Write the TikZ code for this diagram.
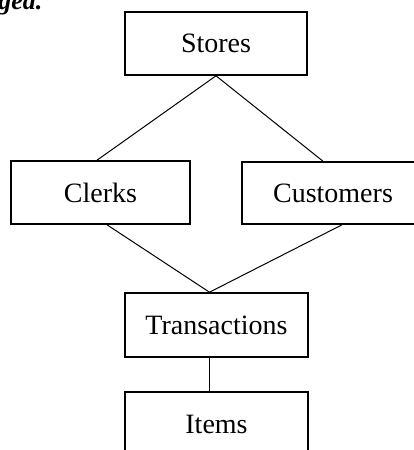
\documentclass[tikz,border=0pt]{standalone}
\usepackage{fontspec}
\setmainfont{Liberation Serif}
\begin{document}
\begin{tikzpicture}[x=1pt,y=-1pt,
  entity/.style={draw, line width=1.6pt, inner sep=0pt, font=\fontsize{28}{32}\selectfont},
  link/.style={line width=1pt},
  trunk/.style={line width=1.6pt}]
\useasboundingbox (0,0) rectangle (414,450);
\clip (0,0) rectangle (414,450);
\node[anchor=base east, font=\fontsize{26}{30}\selectfont\itshape\bfseries] (cut) at (46,9) {ged.};
\node[entity, minimum width=182pt, minimum height=63pt] (stores) at (216,43.5) {Stores};
\node[entity, minimum width=179pt, minimum height=63pt] (clerks) at (100.5,192.5) {Clerks};
\node[entity, minimum width=182pt, minimum height=62pt] (customers) at (333,193) {Customers};
\node[entity, minimum width=183pt, minimum height=64pt] (trans) at (216.5,325) {Transactions};
\node[entity, minimum width=183pt, minimum height=64pt] (items) at (216.5,424) {Items};
\draw[link] (stores.south) -- ([xshift=-3.5pt]clerks.north);
\draw[link] (stores.south) -- ([xshift=-10pt]customers.north);
\draw[link] ([xshift=6.5pt]clerks.south) -- ([xshift=-7pt]trans.north);
\draw[link] ([xshift=9pt]customers.south) -- ([xshift=-7pt]trans.north);
\draw[trunk] ([xshift=-7pt]trans.south) -- ([xshift=-7pt]items.north);
\end{tikzpicture}
\end{document}
